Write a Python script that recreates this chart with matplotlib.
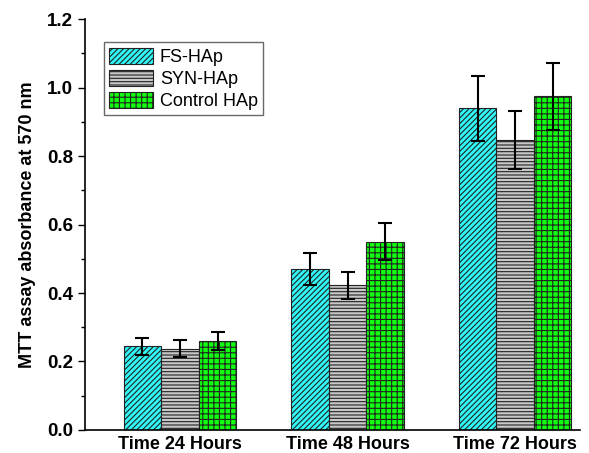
import matplotlib.pyplot as plt
import numpy as np
from matplotlib.ticker import MultipleLocator, FormatStrFormatter

groups = ['Time 24 Hours', 'Time 48 Hours', 'Time 72 Hours']
series = ['FS-HAp', 'SYN-HAp', 'Control HAp']
fs_vals = [0.245, 0.470, 0.940]
syn_vals = [0.237, 0.422, 0.846]
ctl_vals = [0.260, 0.550, 0.974]
fs_err = [0.025, 0.048, 0.095]
syn_err = [0.025, 0.040, 0.084]
ctl_err = [0.025, 0.055, 0.097]

plt.rcParams['font.family'] = ['Liberation Sans', 'DejaVu Sans']
plt.rcParams['hatch.linewidth'] = 0.8

fig = plt.figure(figsize=(5.89, 4.53), dpi=100)
ax = fig.add_axes([0.1443, 0.0508, 0.8407, 0.9072])

x = np.arange(1, 4)
w = 0.224
styles = [('#30f8f8', '//////'), ('#c8c8c8', '-----'), ('#10ff10', '+++')]
for i, (vals, errs, name) in enumerate(zip([fs_vals, syn_vals, ctl_vals],
                                           [fs_err, syn_err, ctl_err], series)):
    fc, h = styles[i]
    ax.bar(x + (i - 1) * w, vals, w, color=fc, hatch=h, edgecolor='#222222',
           linewidth=0.8, label=name, yerr=errs,
           error_kw=dict(ecolor='black', elinewidth=1.5, capsize=5, capthick=1.5))

ax.set_xlim(0.433, 3.388)
ax.set_ylim(0, 1.2)
ax.yaxis.set_major_locator(MultipleLocator(0.2))
ax.yaxis.set_minor_locator(MultipleLocator(0.1))
ax.yaxis.set_major_formatter(FormatStrFormatter('%.1f'))
ax.set_xticks(x)
ax.set_xticklabels(groups, fontsize=13, fontweight='bold')
ax.tick_params(axis='x', length=0, pad=4)
ax.tick_params(axis='y', which='major', length=5, width=1, labelsize=13.5, direction='out')
ax.tick_params(axis='y', which='minor', length=3, width=1, direction='out')
for lab in ax.get_yticklabels():
    lab.set_fontweight('bold')
ax.spines['top'].set_visible(False)
ax.spines['right'].set_visible(False)
ax.spines['left'].set_linewidth(1.2)
ax.spines['bottom'].set_linewidth(1.2)
ax.set_ylabel('MTT assay absorbance at 570 nm', fontsize=13, fontweight='bold',
              labelpad=8)

leg = ax.legend(loc='upper left', bbox_to_anchor=(0.02, 0.965), fontsize=13,
                fancybox=False, edgecolor='#444444', handlelength=2.4,
                handleheight=1.0, borderpad=0.3, labelspacing=0.2, handletextpad=0.4)
leg.get_frame().set_linewidth(1.0)

fig.savefig('out.png', dpi=100)
